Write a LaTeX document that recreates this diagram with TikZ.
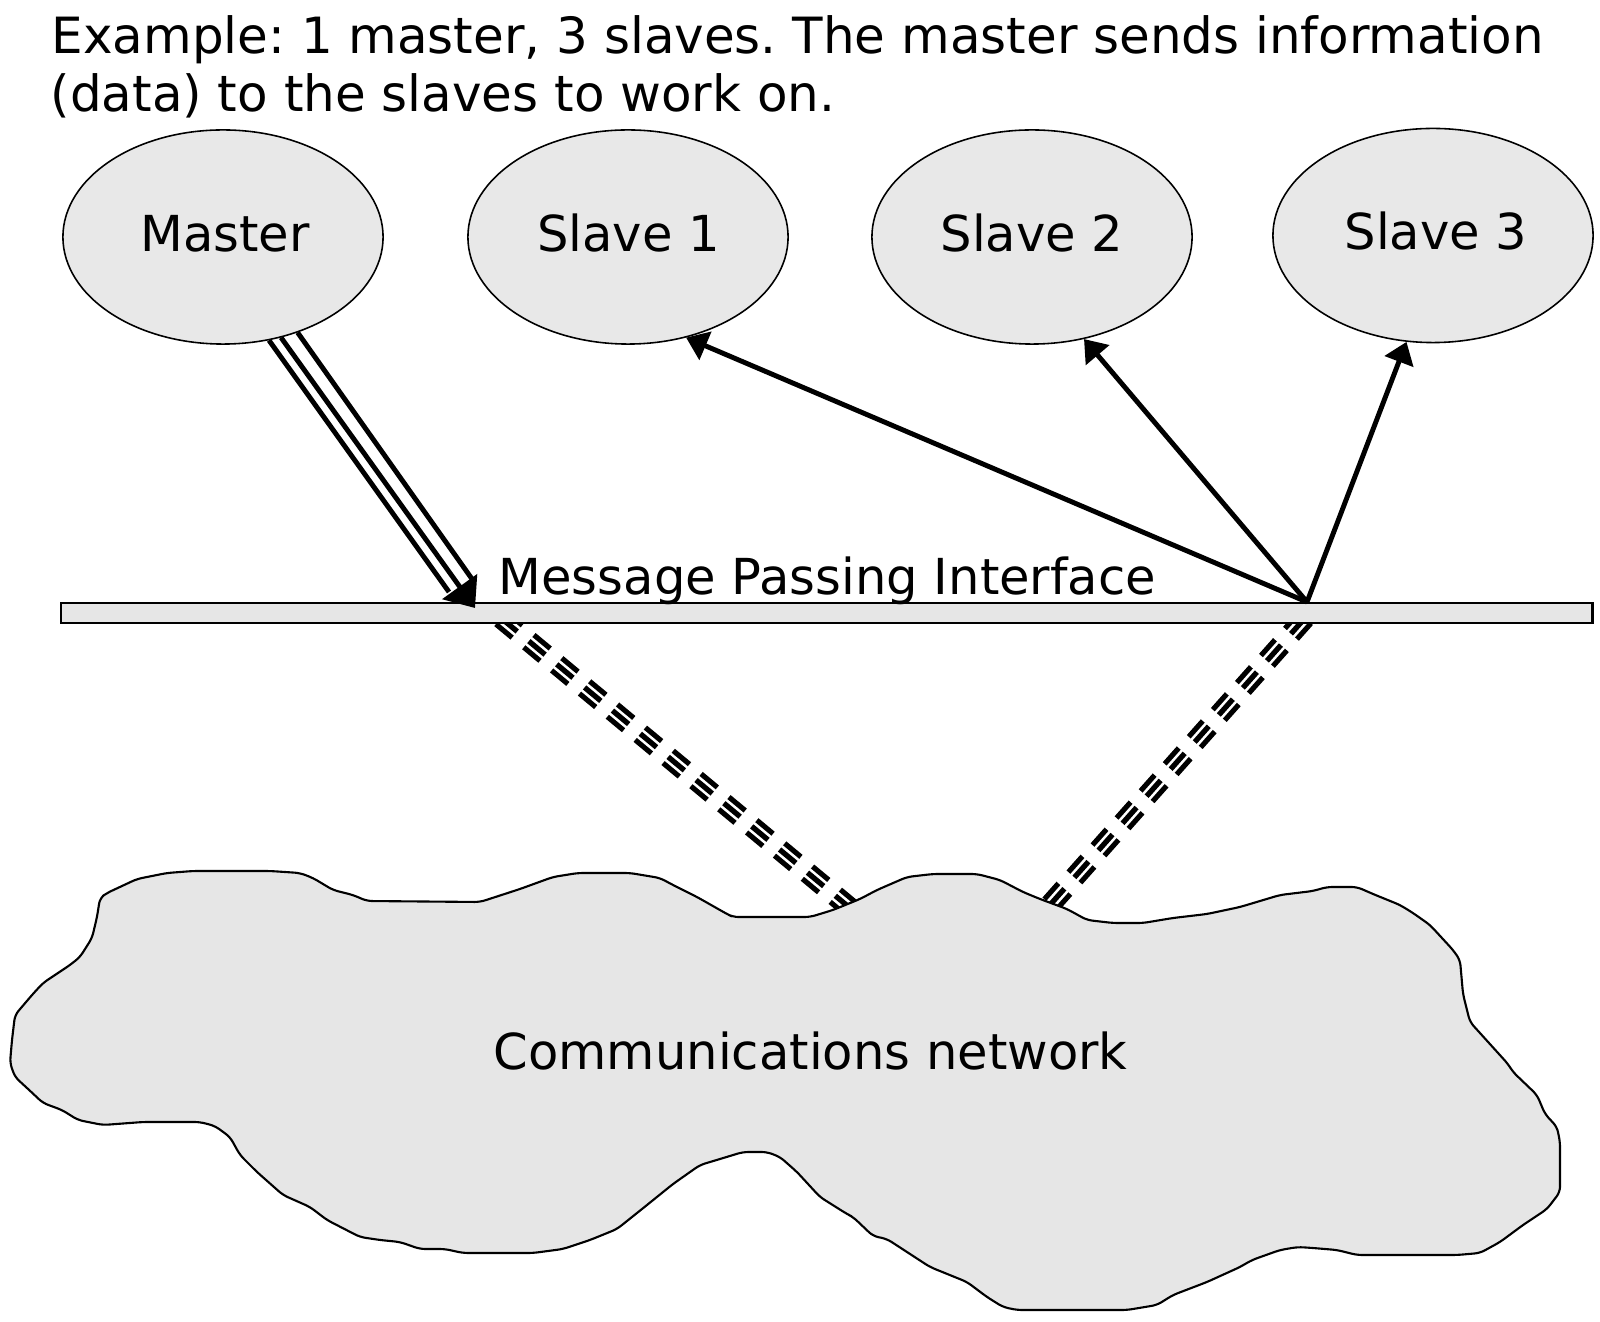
\documentclass[tikz,border=0pt]{standalone}
\usepackage{fontspec}
\setmainfont{DejaVu Sans}
\usetikzlibrary{shapes.geometric,arrows.meta}
\pgfdeclarelayer{bg}
\pgfsetlayers{bg,main}
\definecolor{fillgray}{HTML}{E6E6E6}
\definecolor{ellgray}{HTML}{E8E8E8}
\frenchspacing
\begin{document}
\begin{tikzpicture}[x=0.01cm,y=-0.01cm,
  proc/.style={ellipse, draw=black, line width=0.45pt, fill=ellgray, minimum width=3.2cm, minimum height=2.14cm, inner sep=0pt},
  txt/.style={inner sep=0pt, font=\fontsize{14.1pt}{16.5pt}\selectfont},
  ttl/.style={inner sep=0pt, anchor=base west, font=\fontsize{14.2pt}{16.5pt}\selectfont},
  sarrow/.style={line width=1.4pt, -{Triangle[length=6pt,width=8.5pt]}},
  mline/.style={line width=1.4pt},
  band/.style={line width=6pt, dash pattern=on 6pt off 4.3pt,
     postaction={draw, white, solid, line width=3pt},
     postaction={draw, black, line width=1.5pt, dash pattern=on 6pt off 4.3pt}},
  cloudline/.style={draw=black, line width=0.6pt, fill=fillgray, line join=round, rounded corners=1.5pt}
]
\useasboundingbox (0,0) rectangle (1600,1322);

% title
\node[ttl] (title1) at (51,54) {Example: 1 master, 3 slaves. The master sends information};
\node[ttl] (title2) at (50,112) {(data) to the slaves to work on.};

% cloud
\draw[cloudline] (100,898) -- (107,893) -- (137,879) -- (167,873) -- (193,871) -- (270,871) -- (300,873) -- (313,878) -- (333,890) -- (353,895) -- (367,901) -- (480,902) -- (520,889) -- (553,877) -- (578,873) -- (630,873) -- (660,878) -- (673,885) -- (697,897) -- (727,914) -- (733,917) -- (810,917) -- (833,910) -- (860,899) -- (877,890) -- (907,877) -- (933,874) -- (977,874) -- (1000,880) -- (1023,892) -- (1040,899) -- (1067,909) -- (1087,920) -- (1113,923) -- (1143,923) -- (1173,918) -- (1207,914) -- (1240,907) -- (1280,895) -- (1313,891) -- (1327,887) -- (1357,887) -- (1373,894) -- (1400,905) -- (1413,913) -- (1430,925) -- (1453,950) -- (1460,960) -- (1463,994) -- (1470,1022) -- (1508,1064) -- (1513,1072) -- (1537,1095) -- (1545,1114) -- (1557,1127) -- (1560,1142) -- (1560,1192) -- (1547,1209) -- (1523,1225) -- (1500,1242) -- (1480,1253) -- (1457,1255) -- (1357,1255) -- (1337,1250) -- (1313,1248) -- (1298,1247) -- (1280,1250) -- (1252,1260) -- (1240,1267) -- (1207,1282) -- (1173,1295) -- (1157,1305) -- (1127,1310) -- (1017,1310) -- (1003,1307) -- (987,1297) -- (967,1282) -- (930,1267) -- (887,1239) -- (873,1236) -- (853,1217) -- (847,1214) -- (820,1197) -- (797,1172) -- (780,1157) -- (767,1152) -- (743,1152) -- (720,1159) -- (700,1165) -- (673,1184) -- (647,1205) -- (617,1229) -- (590,1240) -- (563,1249) -- (533,1253) -- (463,1253) -- (445,1249) -- (420,1249) -- (400,1242) -- (380,1240) -- (360,1237) -- (327,1220) -- (310,1207) -- (283,1195) -- (257,1172) -- (240,1155) -- (230,1137) -- (215,1126) -- (200,1122) -- (143,1122) -- (103,1125) -- (78,1120) -- (62,1110) -- (43,1103) -- (27,1088) -- (15,1077) -- (10,1063) -- (12,1040) -- (15,1015) -- (32,995) -- (43,983) -- (70,965) -- (80,957) -- (92,938) -- (97,917) -- cycle;
\node[txt, anchor=base west] (comm) at (493,1069) {Communications network};

% bar
\node[draw=black, line width=0.6pt, fill=fillgray, minimum width=15.31cm, minimum height=0.2cm, inner sep=0pt, outer sep=0pt] (mpi) at (826.5,613) {};
\node[txt, anchor=base west] (mpilbl) at (498,595) {Message Passing Interface};

% dashed triple links (behind bar and cloud)
\coordinate (lTop) at (501,618);
\coordinate (lBot) at (850,908);
\coordinate (rTop) at (1305,618);
\coordinate (rBot) at (1049,906);
\begin{pgfonlayer}{bg}
\draw[band] (lTop) -- (lBot);
\draw[band] (rTop) -- (rBot);
\end{pgfonlayer}

% ellipses
\node[proc] (master) at (223,237) {};
\node[proc] (slave1) at (628,237) {};
\node[proc] (slave2) at (1032,237) {};
\node[proc] (slave3) at (1433,235.5) {};
\node[txt, anchor=base] (masterlbl) at (225,252) {Master};
\node[txt, anchor=base] (s1lbl) at (628.5,252) {Slave 1};
\node[txt, anchor=base] (s2lbl) at (1032,252) {Slave 2};
\node[txt, anchor=base] (s3lbl) at (1436,250) {Slave 3};

% master triple arrow
\coordinate (mL) at (449,592);
\coordinate (mTip) at (475,608);
\coordinate (mR) at (472,579);
\draw[mline] (master.-66.9) -- (mL);
\draw[mline, -{Triangle[length=7.5pt,width=12pt]}] (master.-60.6) -- (mTip);
\draw[mline] (master.-52.4) -- (mR);

% slave arrows
\coordinate (mpiPt) at (1307,602);
\draw[sarrow] (mpiPt) -- (slave1.-60);
\draw[sarrow] (mpiPt) -- (slave2.-63);
\draw[sarrow] (mpiPt) -- (slave3.-104.4);
\end{tikzpicture}
\end{document}
